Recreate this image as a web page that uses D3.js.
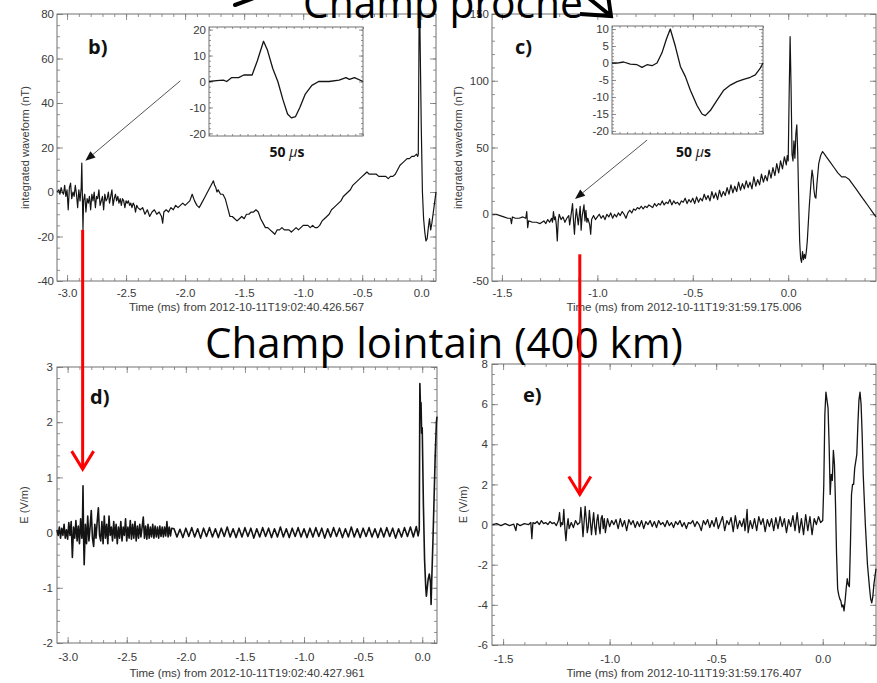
<!DOCTYPE html>
<html><head><meta charset="utf-8">
<script src="https://cdn.jsdelivr.net/npm/d3@7"></script>
<style>
html,body{margin:0;padding:0;background:#fff;}
svg{display:block;}
.tick text{font-family:"Liberation Sans",Arial,sans-serif;font-size:11.5px;fill:#3a3a3a;}
.inset .tick text{font-size:11.5px;}
.tick line{stroke:#777;stroke-width:0.8;}
.axtitle{font-family:"Liberation Sans",Arial,sans-serif;font-size:11.5px;fill:#3a3a3a;}
.ytitle{font-size:11px;}
.plabel{font-family:"Open Sans",sans-serif;font-weight:700;font-size:20px;fill:#111;}
.big{font-family:"Open Sans",sans-serif;font-size:42px;fill:#000;}
.us{font-family:"Open Sans",sans-serif;font-weight:700;font-size:14px;fill:#111;}
</style></head><body>
<svg id="fig" width="877" height="683"></svg>
<script>
// ---- texts ----
const titleNear = "Champ proche";
const titleFar = "Champ lointain (400 km)";
const xTitleB = "Time (ms) from 2012-10-11T19:02:40.426.567";
const xTitleC = "Time (ms) from 2012-10-11T19:31:59.175.006";
const xTitleD = "Time (ms) from 2012-10-11T19:02:40.427.961";
const xTitleE = "Time (ms) from 2012-10-11T19:31:59.176.407";
const yTitleMag = "integrated waveform (nT)";
const yTitleE = "E (V/m)";
const insetLabel = "50 ";

// ---- tick values ----
const xTicksLong = [-3.0, -2.5, -2.0, -1.5, -1.0, -0.5, 0.0];
const xTicksShort = [-1.5, -1.0, -0.5, 0.0];
const yTicksB = [-40, -20, 0, 20, 40, 60, 80];
const yTicksC = [-50, 0, 50, 100, 150];
const yTicksD = [-2, -1, 0, 1, 2, 3];
const yTicksE = [-6, -4, -2, 0, 2, 4, 6, 8];
const yTicksInsetB = [-20, -10, 0, 10, 20];
const yTicksInsetC = [-20, -15, -10, -5, 0, 5, 10];

// ---- b) integrated magnetic waveform, flash 19:02:40 (time ms, nT) ----
const nearFieldB = [
[-3.085,0],[-3.07,1],[-3.06,-1],[-3.05,2],[-3.04,0],[-3.03,-1],[-3.02,3],[-3.01,-2],[-3.0,1],[-2.99,-8],[-2.98,2],[-2.97,4],[-2.96,-3],[-2.95,0],[-2.94,-2],[-2.93,3],[-2.92,-1],[-2.91,-7],[-2.90,1],[-2.89,-4],[-2.88,2],[-2.875,13],[-2.87,-2],[-2.865,-17],[-2.86,-4],[-2.85,-1],[-2.84,-9],[-2.83,-3],[-2.82,-5],[-2.81,-2],[-2.80,-8],[-2.79,-1],[-2.78,-4],[-2.77,0],[-2.76,-7],[-2.75,-2],[-2.74,-3],[-2.73,1],[-2.72,-6],[-2.71,-4],[-2.70,-2],[-2.69,-8],[-2.68,-1],[-2.67,-4],[-2.66,-3],[-2.65,0],[-2.64,-5],[-2.63,-2],[-2.62,1],[-2.61,-6],[-2.60,-3],[-2.59,-1],[-2.58,-4],[-2.57,-2],[-2.56,-5],[-2.55,-3],[-2.54,-6],[-2.53,-3],[-2.52,-4],[-2.51,-7],[-2.50,-4],[-2.49,-5],[-2.48,-4],[-2.47,-6],[-2.46,-5],[-2.45,-7],[-2.44,-5],[-2.43,-6],[-2.42,-9],[-2.41,-6],[-2.40,-7],[-2.38,-8],[-2.36,-7],[-2.34,-10],[-2.32,-8],[-2.30,-11],[-2.28,-9],[-2.26,-8],[-2.24,-10],[-2.22,-9],[-2.20,-11],[-2.19,-14],[-2.18,-9],[-2.16,-8],[-2.14,-9],[-2.12,-7],[-2.10,-8],[-2.08,-6],[-2.06,-7],[-2.04,-6],[-2.02,-5],[-2.00,-6],[-1.98,-5],[-1.96,-4],[-1.94,-1],[-1.92,-4],[-1.90,-6],[-1.88,-7],[-1.86,-5],[-1.84,-3],[-1.82,-1],[-1.80,1],[-1.78,3],[-1.76,5],[-1.75,3],[-1.74,2],[-1.73,0],[-1.72,1],[-1.70,-1],[-1.68,-1],[-1.66,-3],[-1.64,-7],[-1.62,-11],[-1.60,-11],[-1.58,-12],[-1.56,-13],[-1.54,-12],[-1.52,-11],[-1.50,-12],[-1.48,-10],[-1.46,-10],[-1.44,-9],[-1.42,-9],[-1.40,-8],[-1.38,-9],[-1.36,-12],[-1.34,-14],[-1.32,-16],[-1.30,-16],[-1.28,-17],[-1.26,-18],[-1.24,-19],[-1.22,-17],[-1.20,-17],[-1.18,-16],[-1.16,-17],[-1.14,-17],[-1.12,-17],[-1.10,-18],[-1.08,-17],[-1.06,-16],[-1.04,-17],[-1.02,-16],[-1.00,-15],[-0.98,-15],[-0.96,-15],[-0.94,-16],[-0.92,-15],[-0.90,-16],[-0.88,-16],[-0.86,-15],[-0.84,-13],[-0.82,-12],[-0.80,-11],[-0.78,-10],[-0.76,-8],[-0.74,-7],[-0.72,-6],[-0.70,-5],[-0.68,-4],[-0.66,-2],[-0.64,-1],[-0.62,0],[-0.60,1],[-0.58,3],[-0.56,4],[-0.54,5],[-0.52,6],[-0.50,7],[-0.48,8],[-0.46,9],[-0.44,8],[-0.42,8],[-0.40,8],[-0.38,8],[-0.36,7],[-0.34,7],[-0.32,7],[-0.30,7],[-0.28,6],[-0.26,7],[-0.24,7],[-0.22,8],[-0.20,10],[-0.18,12],[-0.16,13],[-0.14,14],[-0.12,15],[-0.10,15],[-0.08,16],[-0.06,16],[-0.04,17],[-0.03,16],[-0.025,17],[-0.02,60],[-0.015,110],[-0.01,70],[0.00,30],[0.01,0],[0.02,-12],[0.03,-18],[0.04,-22],[0.05,-21],[0.06,-16],[0.07,-12],[0.08,-17],[0.09,-14],[0.10,-10],[0.11,-6],[0.12,-2],[0.125,0]
];

// ---- c) integrated magnetic waveform, flash 19:31:59 (time ms, nT) ----
const nearFieldC = [
[-1.55,0],[-1.53,0],[-1.51,-1],[-1.49,-2],[-1.47,-3],[-1.455,-3],[-1.45,-7],[-1.445,-2],[-1.43,-3],[-1.41,-3],[-1.39,-2],[-1.375,-3],[-1.37,2],[-1.365,-10],[-1.36,-5],[-1.34,-6],[-1.32,-6],[-1.30,-7],[-1.29,-6],[-1.28,-5],[-1.27,-7],[-1.26,-4],[-1.25,-6],[-1.24,-3],[-1.235,-6],[-1.23,2],[-1.225,-4],[-1.22,-2],[-1.215,-8],[-1.21,-20],[-1.205,-5],[-1.20,0],[-1.19,-4],[-1.18,-2],[-1.17,-6],[-1.16,-3],[-1.15,-1],[-1.145,-8],[-1.14,-3],[-1.13,8],[-1.125,-5],[-1.12,-15],[-1.115,-3],[-1.11,4],[-1.10,-8],[-1.09,6],[-1.085,-12],[-1.08,-2],[-1.07,7],[-1.065,-5],[-1.06,3],[-1.055,-6],[-1.05,-3],[-1.04,-8],[-1.035,-15],[-1.03,-4],[-1.02,-1],[-1.01,-4],[-1.0,-2],[-0.99,0],[-0.98,-3],[-0.97,-1],[-0.96,-4],[-0.95,0],[-0.94,-2],[-0.93,1],[-0.92,-3],[-0.91,0],[-0.90,-2],[-0.89,1],[-0.88,-1],[-0.87,2],[-0.86,0],[-0.85,-3],[-0.84,1],[-0.83,3],[-0.82,1],[-0.81,4],[-0.80,3],[-0.79,5],[-0.78,4],[-0.77,6],[-0.76,4],[-0.75,6],[-0.74,5],[-0.73,7],[-0.72,6],[-0.71,5],[-0.70,8],[-0.69,6],[-0.68,8],[-0.67,7],[-0.66,10],[-0.65,7],[-0.64,9],[-0.63,8],[-0.62,11],[-0.61,7],[-0.60,10],[-0.59,8],[-0.58,9],[-0.57,7],[-0.56,10],[-0.55,9],[-0.54,12],[-0.53,8],[-0.52,11],[-0.51,9],[-0.50,12],[-0.49,8],[-0.48,13],[-0.47,9],[-0.46,12],[-0.45,10],[-0.44,15],[-0.43,11],[-0.42,14],[-0.41,10],[-0.40,17],[-0.39,12],[-0.38,16],[-0.37,11],[-0.36,18],[-0.35,13],[-0.34,17],[-0.33,14],[-0.32,20],[-0.31,15],[-0.30,22],[-0.29,16],[-0.28,21],[-0.27,17],[-0.26,24],[-0.25,18],[-0.24,23],[-0.23,19],[-0.22,25],[-0.21,20],[-0.20,24],[-0.19,19],[-0.18,28],[-0.17,21],[-0.16,26],[-0.15,22],[-0.14,30],[-0.13,24],[-0.12,29],[-0.11,25],[-0.10,33],[-0.09,27],[-0.08,35],[-0.07,29],[-0.06,38],[-0.05,31],[-0.04,40],[-0.03,34],[-0.02,43],[-0.01,37],[-0.005,44],[0.0,40],[0.005,90],[0.01,133],[0.015,95],[0.02,45],[0.025,40],[0.03,55],[0.035,42],[0.04,60],[0.045,67],[0.05,45],[0.055,10],[0.06,-20],[0.065,-33],[0.07,-36],[0.075,-28],[0.08,-34],[0.085,-30],[0.09,-33],[0.095,-28],[0.10,-20],[0.11,5],[0.12,25],[0.125,33],[0.13,28],[0.135,18],[0.14,13],[0.145,12],[0.15,22],[0.16,38],[0.17,44],[0.18,47],[0.19,45],[0.20,43],[0.22,39],[0.24,35],[0.26,31],[0.28,28],[0.30,28],[0.32,26],[0.34,22],[0.36,18],[0.38,14],[0.40,10],[0.42,6],[0.44,2],[0.46,-2]
];

// ---- d) electric field at 400 km, flash 19:02:40 (time ms, V/m) ----
const farFieldD = [
[-3.09,0.05],[-3.08,-0.05],[-3.07,0.1],[-3.06,-0.1],[-3.05,0.08],[-3.04,-0.05],[-3.03,0.15],[-3.02,-0.1],[-3.01,0.05],[-3.00,-0.12],[-2.99,0.18],[-2.98,-0.05],[-2.97,0.2],[-2.96,-0.45],[-2.95,0.1],[-2.94,-0.1],[-2.93,0.22],[-2.92,-0.15],[-2.91,0.12],[-2.90,-0.2],[-2.89,0.25],[-2.88,-0.1],[-2.875,0.1],[-2.87,0.85],[-2.865,-0.1],[-2.86,-0.58],[-2.85,0.15],[-2.84,-0.2],[-2.83,0.3],[-2.82,-0.15],[-2.81,0.1],[-2.80,0.4],[-2.79,-0.1],[-2.78,-0.25],[-2.77,0.15],[-2.76,-0.1],[-2.75,0.2],[-2.74,0.45],[-2.73,-0.05],[-2.72,-0.15],[-2.71,0.2],[-2.70,-0.2],[-2.69,0.3],[-2.68,-0.1],[-2.67,0.15],[-2.66,-0.2],[-2.65,0.3],[-2.64,-0.05],[-2.63,0.1],[-2.62,-0.15],[-2.61,0.2],[-2.60,-0.1],[-2.59,0.15],[-2.58,-0.2],[-2.57,0.1],[-2.56,-0.1],[-2.55,0.2],[-2.54,-0.15],[-2.53,0.1],[-2.52,-0.05],[-2.51,0.25],[-2.50,-0.15],[-2.49,0.1],[-2.48,-0.1],[-2.47,0.22],[-2.46,-0.12],[-2.45,0.15],[-2.44,-0.1],[-2.43,0.2],[-2.42,-0.15],[-2.41,0.12],[-2.40,-0.1],[-2.39,0.15],[-2.38,-0.08],[-2.37,0.1],[-2.36,0.28],[-2.35,-0.1],[-2.34,0.12],[-2.33,-0.12],[-2.32,0.15],[-2.31,-0.1],[-2.30,0.1],[-2.29,-0.08],[-2.28,0.15],[-2.27,-0.1],[-2.26,0.12],[-2.25,-0.08],[-2.24,0.1],[-2.23,-0.1],[-2.22,0.12],[-2.21,-0.07],[-2.20,0.1],[-2.19,-0.08],[-2.18,0.1],[-2.17,-0.06],[-2.16,0.2],[-2.15,-0.08],[-2.14,0.1],[-2.13,-0.06],[-2.12,0.08],
[-2.100,0.07],[-2.075,-0.08],[-2.050,0.06],[-2.025,-0.09],[-2.000,0.08],[-1.975,-0.07],[-1.950,0.09],[-1.925,-0.08],[-1.900,0.07],[-1.875,-0.10],[-1.850,0.08],[-1.825,-0.07],[-1.800,0.09],[-1.775,-0.08],[-1.750,0.07],[-1.725,-0.09],[-1.700,0.08],[-1.675,-0.07],[-1.650,0.10],[-1.625,-0.08],[-1.600,0.07],[-1.575,-0.09],[-1.550,0.08],[-1.525,-0.08],[-1.500,0.09],[-1.475,-0.07],[-1.450,0.08],[-1.425,-0.10],[-1.400,0.07],[-1.375,-0.08],[-1.350,0.09],[-1.325,-0.07],[-1.300,0.08],[-1.275,-0.09],[-1.250,0.07],[-1.225,-0.08],[-1.200,0.10],[-1.175,-0.08],[-1.150,0.07],[-1.125,-0.09],[-1.100,0.08],[-1.075,-0.07],[-1.050,0.09],[-1.025,-0.08],[-1.000,0.07],[-0.975,-0.09],[-0.950,0.08],[-0.925,-0.08],[-0.900,0.09],[-0.875,-0.07],[-0.850,0.08],[-0.825,-0.10],[-0.800,0.07],[-0.775,-0.08],[-0.750,0.09],[-0.725,-0.07],[-0.700,0.08],[-0.675,-0.09],[-0.650,0.07],[-0.625,-0.08],[-0.600,0.10],[-0.575,-0.08],[-0.550,0.07],[-0.525,-0.09],[-0.500,0.08],[-0.475,-0.07],[-0.450,0.09],[-0.425,-0.08],[-0.400,0.07],[-0.375,-0.09],[-0.350,0.08],[-0.325,-0.08],[-0.300,0.09],[-0.275,-0.07],[-0.250,0.08],[-0.225,-0.10],[-0.200,0.07],[-0.175,-0.08],[-0.150,0.09],[-0.125,-0.07],[-0.100,0.10],[-0.075,-0.08],[-0.050,0.11],[-0.035,-0.06],
[-0.025,0.05],[-0.02,2.7],[-0.015,2.3],[-0.01,2.35],[-0.005,1.8],[0.0,1.9],[0.01,0.5],[0.02,-0.5],[0.03,-1.0],[0.035,-1.15],[0.04,-1.05],[0.05,-0.85],[0.06,-0.75],[0.07,-0.9],[0.075,-1.3],[0.08,-0.9],[0.09,-0.2],[0.10,0.6],[0.11,1.4],[0.12,2.0],[0.125,2.1]
];

// ---- e) electric field at 400 km, flash 19:31:59 (time ms, V/m) ----
const farFieldE = [
[-1.55,0.0],[-1.53,0.05],[-1.51,-0.05],[-1.49,0.05],[-1.47,-0.05],[-1.45,0.02],[-1.44,-0.3],[-1.435,0.05],[-1.42,-0.05],[-1.40,0.05],[-1.38,0.0],[-1.37,0.1],[-1.365,-0.7],[-1.36,0.1],[-1.35,0.05],[-1.34,0.15],[-1.33,0.0],[-1.32,0.2],[-1.31,0.05],[-1.30,0.1],[-1.29,0.0],[-1.28,0.15],[-1.27,0.05],[-1.26,0.1],[-1.25,-0.05],[-1.24,0.2],[-1.235,0.6],[-1.23,-0.1],[-1.225,0.1],[-1.22,0.0],[-1.215,0.75],[-1.21,-0.2],[-1.205,-0.8],[-1.20,-0.1],[-1.195,0.3],[-1.19,-0.2],[-1.18,0.1],[-1.17,-0.15],[-1.16,0.2],[-1.15,0.0],[-1.14,0.1],[-1.135,0.85],[-1.13,0.2],[-1.125,-0.6],[-1.12,0.1],[-1.115,0.9],[-1.11,0.3],[-1.105,-0.4],[-1.10,-0.1],[-1.095,0.7],[-1.09,0.1],[-1.085,-0.5],[-1.08,0.1],[-1.075,0.6],[-1.07,-0.1],[-1.065,-0.5],[-1.06,0.2],[-1.055,0.5],[-1.05,-0.1],[-1.045,-0.45],[-1.04,0.3],[-1.035,0.45],[-1.03,-0.2],[-1.025,0.3],[-1.02,-0.4],[-1.01,0.3],[-1.00,-0.1],[-0.99,0.2],[-0.98,0.0],[-0.97,0.25],[-0.96,-0.2],[-0.95,0.3],[-0.94,-0.1],[-0.93,0.2],[-0.92,-0.3],[-0.91,0.25],[-0.90,0.0],[-0.89,0.2],[-0.88,-0.15],[-0.87,0.15],[-0.86,-0.1],[-0.85,0.2],[-0.84,-0.2],[-0.83,0.15],[-0.82,0.0],[-0.81,0.2],[-0.80,-0.1],[-0.79,0.15],[-0.78,-0.15],[-0.77,0.2],[-0.76,0.0],[-0.75,0.1],[-0.74,-0.1],[-0.73,0.2],[-0.72,-0.05],[-0.71,0.1],[-0.70,-0.15],[-0.69,0.15],[-0.68,0.0],[-0.67,0.2],[-0.66,-0.1],[-0.65,0.1],[-0.64,-0.2],[-0.63,0.1],[-0.62,0.05],[-0.61,0.2],[-0.60,-0.1],[-0.59,0.15],[-0.58,0.0],[-0.57,-0.3],[-0.56,0.2],[-0.55,0.0],[-0.54,0.25],[-0.53,-0.15],[-0.52,0.2],[-0.51,-0.1],[-0.50,0.35],[-0.49,-0.2],[-0.48,0.1],[-0.47,0.4],[-0.46,-0.3],[-0.45,0.2],[-0.44,0.0],[-0.43,0.35],[-0.42,-0.35],[-0.41,0.45],[-0.40,-0.2],[-0.39,0.2],[-0.38,-0.1],[-0.37,0.3],[-0.365,-0.3],[-0.36,0.1],[-0.355,0.75],[-0.35,-0.4],[-0.34,0.2],[-0.33,-0.2],[-0.32,0.3],[-0.31,-0.3],[-0.30,0.4],[-0.29,0.0],[-0.28,0.3],[-0.27,-0.35],[-0.26,0.25],[-0.25,-0.1],[-0.24,0.3],[-0.23,-0.3],[-0.22,0.35],[-0.21,-0.2],[-0.20,0.4],[-0.19,-0.1],[-0.18,0.3],[-0.17,-0.4],[-0.16,0.25],[-0.15,-0.1],[-0.14,0.45],[-0.13,-0.3],[-0.12,0.6],[-0.11,-0.4],[-0.10,0.3],[-0.09,-0.5],[-0.08,0.5],[-0.07,-0.3],[-0.06,0.4],[-0.05,-0.5],[-0.04,0.3],[-0.03,0.0],[-0.02,0.4],[-0.01,0.1],[0.0,0.2],[0.005,2.0],[0.01,5.5],[0.015,6.6],[0.02,6.2],[0.025,5.8],[0.03,4.0],[0.035,1.5],[0.04,2.5],[0.045,2.2],[0.05,3.7],[0.055,3.0],[0.06,1.0],[0.065,-1.5],[0.07,-3.2],[0.075,-3.5],[0.08,-3.7],[0.085,-3.8],[0.09,-4.1],[0.095,-4.0],[0.10,-4.3],[0.105,-3.8],[0.11,-3.2],[0.115,-2.7],[0.12,-3.0],[0.125,-3.1],[0.13,-1.0],[0.135,1.5],[0.14,2.0],[0.145,2.0],[0.15,2.8],[0.16,3.5],[0.165,5.0],[0.17,6.2],[0.175,6.6],[0.18,6.0],[0.185,4.5],[0.19,2.5],[0.20,0.0],[0.21,-2.0],[0.22,-3.2],[0.225,-3.7],[0.23,-3.9],[0.235,-3.6],[0.24,-3.0],[0.25,-2.2]
];

// ---- insets: 50 microsecond zoom on the first pulse (relative time, nT) ----
const pulseB = [[0,0],[4.9,0.3],[9.3,0.5],[11.5,0],[14.8,1.5],[19.2,1.5],[22.6,2.5],[28,2.5],[31.4,8],[35.4,15.5],[38,12],[41.4,5],[44.7,0],[48,-7],[51,-12.5],[53.5,-14],[56.2,-13.5],[59,-10],[62.4,-5],[66.8,-1.5],[71.2,0],[77.9,0],[84.5,0.5],[88.9,1.5],[91.2,0.8],[94.5,1.5],[100,0]];
const pulseC = [[0,0],[3.3,0],[7.7,0.3],[12.1,-0.3],[16.6,-0.5],[19.9,-1.3],[23.2,-0.5],[26.5,-0.8],[29.8,0],[33.1,3],[36,7],[38.6,10],[41.9,5],[45.3,-1],[48.6,-4],[51.9,-8],[56.3,-12.5],[59.6,-15],[61.8,-15.5],[65.1,-14],[69.5,-11],[74,-8],[78.4,-6.5],[82.8,-5.5],[87.2,-4.8],[91.6,-4.2],[94.9,-3.5],[98.2,-1.5],[100,0]];

const svg = d3.select("#fig");
svg.append("rect").attr("width", 877).attr("height", 683).attr("fill", "#fff");

const fmt1 = d => d.toFixed(1);
const fmtInt = d => String(d);
const blank = () => "";

function panel(o) {
  const x = d3.scaleLinear().domain(o.xDomain).range([o.left, o.right]);
  const y = d3.scaleLinear().domain(o.yDomain).range([o.bottom, o.top]);
  const g = svg.append("g").attr("class", o.cls || "main");
  g.append("rect").attr("x", o.left).attr("y", o.top)
    .attr("width", o.right - o.left).attr("height", o.bottom - o.top)
    .attr("fill", "#fff");
  const ax = (fn, scale, vals, size, tr, f, pad) => {
    const a = g.append("g").attr("transform", tr)
      .call(fn(scale).tickValues(vals).tickSize(-size).tickPadding(pad || 3).tickFormat(f || blank));
    a.select(".domain").remove();
    return a;
  };
  ax(d3.axisBottom, x, o.xMinor, o.minorLen, `translate(0,${o.bottom})`);
  ax(d3.axisTop, x, o.xMinor, o.minorLen, `translate(0,${o.top})`);
  ax(d3.axisLeft, y, o.yMinor, o.minorLen, `translate(${o.left},0)`);
  ax(d3.axisRight, y, o.yMinor, o.minorLen, `translate(${o.right},0)`);
  if (o.xTicks) {
    ax(d3.axisBottom, x, o.xTicks, o.majorLen, `translate(0,${o.bottom})`, o.xFmt, o.xPad);
    ax(d3.axisTop, x, o.xTicks, o.majorLen, `translate(0,${o.top})`);
  }
  ax(d3.axisLeft, y, o.yTicks, o.majorLen, `translate(${o.left},0)`, o.yFmt, o.yPad);
  ax(d3.axisRight, y, o.yTicks, o.majorLen, `translate(${o.right},0)`);
  g.append("rect").attr("x", o.left).attr("y", o.top)
    .attr("width", o.right - o.left).attr("height", o.bottom - o.top)
    .attr("fill", "none").attr("stroke", "#707070").attr("stroke-width", 1);
  g.append("path").datum(o.data)
    .attr("d", d3.line().x(d => x(d[0])).y(d => y(d[1])))
    .attr("fill", "none").attr("stroke", "#141414")
    .attr("stroke-width", o.lineWidth || 1.2).attr("stroke-linejoin", "round");
  if (o.xTitle) {
    g.append("text").attr("class", "axtitle").attr("text-anchor", "middle")
      .attr("x", (o.left + o.right) / 2).attr("y", o.xTitleY).text(o.xTitle);
  }
  if (o.yTitle) {
    g.append("text").attr("class", "axtitle ytitle").attr("text-anchor", "middle")
      .attr("transform", `translate(${o.yTitleX},${(o.top + o.bottom) / 2}) rotate(-90)`)
      .attr("dy", "0.35em").text(o.yTitle);
  }
  if (o.label) {
    g.append("text").attr("class", "plabel").attr("x", o.labelX).attr("y", o.labelY).text(o.label);
  }
  return { x, y };
}

// b) near field, flash 1
const pB = panel({
  left: 57, right: 436, top: 14, bottom: 281,
  xDomain: [-3.085, 0.125], yDomain: [-40, 80],
  xTicks: xTicksLong, xMinor: d3.range(-3.0, 0.15, 0.1), xFmt: fmt1, xPad: 8,
  yTicks: yTicksB, yMinor: d3.range(-40, 81, 5), yFmt: fmtInt, yPad: 3,
  majorLen: 6, minorLen: 3, data: nearFieldB,
  xTitle: xTitleB, xTitleY: 311, yTitle: yTitleMag, yTitleX: 25,
  label: "b)", labelX: 88, labelY: 54
});

// c) near field, flash 2
const pC = panel({
  left: 492, right: 876, top: 14, bottom: 281,
  xDomain: [-1.552, 0.46], yDomain: [-50, 150],
  xTicks: xTicksShort, xMinor: d3.range(-1.5, 0.46, 0.1), xFmt: fmt1, xPad: 8,
  yTicks: yTicksC, yMinor: d3.range(-50, 151, 10), yFmt: fmtInt, yPad: 3,
  majorLen: 6, minorLen: 3, data: nearFieldC,
  xTitle: xTitleC, xTitleY: 311, yTitle: yTitleMag, yTitleX: 458,
  label: "c)", labelX: 515, labelY: 54
});

// d) far field, flash 1
const pD = panel({
  left: 57, right: 437, top: 367, bottom: 643,
  xDomain: [-3.09, 0.125], yDomain: [-2, 3],
  xTicks: xTicksLong, xMinor: d3.range(-3.0, 0.15, 0.1), xFmt: fmt1, xPad: 10,
  yTicks: yTicksD, yMinor: d3.range(-2, 3.01, 0.2), yFmt: fmtInt, yPad: 4,
  majorLen: 6, minorLen: 3, data: farFieldD, lineWidth: 1.6,
  xTitle: xTitleD, xTitleY: 677, yTitle: yTitleE, yTitleX: 24,
  label: "d)", labelX: 90, labelY: 404
});

// e) far field, flash 2
const pE = panel({
  left: 492, right: 876, top: 364, bottom: 645,
  xDomain: [-1.552, 0.25], yDomain: [-6, 8],
  xTicks: xTicksShort, xMinor: d3.range(-1.5, 0.26, 0.1), xFmt: fmt1, xPad: 10,
  yTicks: yTicksE, yMinor: d3.range(-6, 8.01, 0.5), yFmt: fmtInt, yPad: 4,
  majorLen: 6, minorLen: 3, data: farFieldE, lineWidth: 1.3,
  xTitle: xTitleE, xTitleY: 677, yTitle: yTitleE, yTitleX: 463,
  label: "e)", labelX: 523, labelY: 402
});

// insets
const iB = panel({
  cls: "inset", left: 209, right: 363, top: 27, bottom: 136,
  xDomain: [0, 100], yDomain: [-21, 21],
  xMinor: d3.range(0, 101, 5),
  yTicks: yTicksInsetB, yMinor: d3.range(-20, 21, 2), yFmt: fmtInt, yPad: 3,
  majorLen: 4, minorLen: 2, data: pulseB, lineWidth: 1.3
});
const iC = panel({
  cls: "inset", left: 612, right: 763, top: 26, bottom: 134,
  xDomain: [0, 100], yDomain: [-20.9, 10.9],
  xMinor: d3.range(0, 101, 5),
  yTicks: yTicksInsetC, yMinor: d3.range(-20, 11, 1), yFmt: fmtInt, yPad: 3,
  majorLen: 4, minorLen: 2, data: pulseC, lineWidth: 1.3
});

function usLabel(cx, by) {
  const t = svg.append("text").attr("class", "us").attr("x", cx).attr("y", by).attr("text-anchor", "middle");
  t.append("tspan").text(insetLabel);
  t.append("tspan").attr("font-style", "italic").attr("font-weight", 400).text("\u03bc");
  t.append("tspan").text("s");
}
usLabel((iB.x.range()[0] + iB.x.range()[1]) / 2 + 1, 157);
usLabel((iC.x.range()[0] + iC.x.range()[1]) / 2 + 6, 157);

// thin pointer from each inset to the pulse it magnifies
function pointer(from, tip) {
  const ang = Math.atan2(tip[1] - from[1], tip[0] - from[0]);
  const len = 10, half = 4;
  const bx = tip[0] - len * Math.cos(ang), by = tip[1] - len * Math.sin(ang);
  svg.append("line").attr("x1", from[0]).attr("y1", from[1]).attr("x2", bx).attr("y2", by)
    .attr("stroke", "#555").attr("stroke-width", 1);
  svg.append("path")
    .attr("d", `M${tip[0]},${tip[1]}L${bx + half * Math.sin(ang)},${by - half * Math.cos(ang)}L${bx - half * Math.sin(ang)},${by + half * Math.cos(ang)}Z`)
    .attr("fill", "#111");
}
pointer([pB.x(-2.04), pB.y(50)], [pB.x(-2.845), pB.y(14)]);
pointer([pC.x(-0.739), pC.y(55.6)], [pC.x(-1.117), pC.y(11.4)]);

// titles
svg.append("text").attr("class", "big").attr("x", 303).attr("y", 18)
  .attr("textLength", 280).attr("lengthAdjust", "spacingAndGlyphs").text(titleNear);
svg.append("text").attr("class", "big").attr("x", 205).attr("y", 358)
  .attr("textLength", 478).attr("lengthAdjust", "spacingAndGlyphs").text(titleFar);

// black arrows leaving the upper title
svg.append("path").attr("d", "M262,-5L235,5").attr("stroke", "#000").attr("stroke-width", 4)
  .attr("fill", "none").attr("stroke-linecap", "round");
svg.append("path").attr("d", "M560,-25L611,16M580,14L611,16L607,-12")
  .attr("stroke", "#000").attr("stroke-width", 4).attr("fill", "none")
  .attr("stroke-linejoin", "miter").attr("stroke-linecap", "butt");

// red arrows linking the near-field pulse to the far-field pulse
function redArrow(x, y1, y2) {
  svg.append("line").attr("x1", x).attr("y1", y1).attr("x2", x).attr("y2", y2)
    .attr("stroke", "#ff0000").attr("stroke-width", 3);
  svg.append("path").attr("d", `M${x - 11},${y2 - 18}L${x},${y2}L${x + 11},${y2 - 18}`)
    .attr("stroke", "#ff0000").attr("stroke-width", 3).attr("fill", "none");
}
redArrow(pD.x(-2.873), pB.y(-17), pD.y(1.15));
redArrow(pE.x(-1.14), pC.y(-30), pE.y(1.5));
</script></body></html>
